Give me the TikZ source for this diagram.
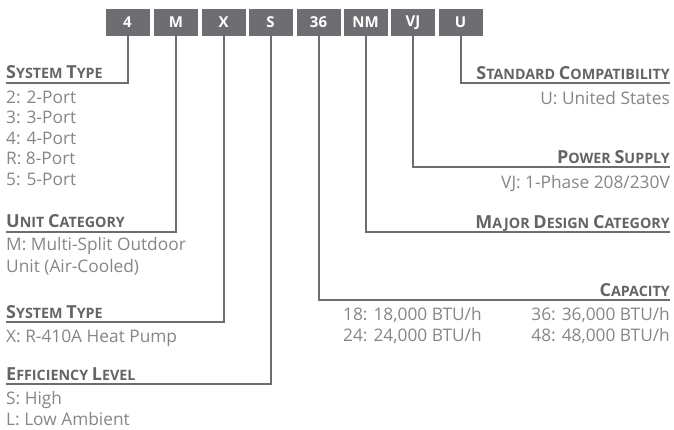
\documentclass[tikz,border=0pt]{standalone}
\usepackage{fontspec}
\setmainfont{Open Sans}
\definecolor{boxgray}{HTML}{6D6E71}
\definecolor{headgray}{HTML}{636466}
\definecolor{bodygray}{HTML}{858689}
\newcommand\hbig[1]{{\fontsize{18}{21}\selectfont #1}}
\begin{document}
\begin{tikzpicture}[x=1pt,y=-1pt,
  codebox/.style={fill=boxgray,text=white,minimum width=44pt,minimum height=27pt,inner sep=0pt,font=\fontsize{15}{18}\selectfont\bfseries},
  leader/.style={draw=boxgray,line width=2pt},
  heading/.style={inner sep=0pt,text=headgray,font=\fontsize{14.3}{17}\selectfont\bfseries},
  body/.style={inner sep=0pt,text=bodygray,font=\fontsize{17.3}{20.6}\selectfont},
  lw/.style={body,anchor=base west},
  le/.style={body,anchor=base east},
]
\useasboundingbox (0,0) rectangle (674,430);
% code boxes
\node[codebox] (b1) at (127.5,22.5) {4};
\node[codebox] (b2) at (176,22.5) {M};
\node[codebox] (b3) at (223.5,22.5) {X};
\node[codebox] (b4) at (270.5,22.5) {S};
\node[codebox] (b5) at (318.5,22.5) {36};
\node[codebox] (b6) at (365.5,22.5) {NM};
\node[codebox] (b7) at (413,22.5) {VJ};
\node[codebox] (b8) at (460.5,22.5) {U};
% leader ends
\coordinate (e1) at (6,83);
\coordinate (e2) at (6,232);
\coordinate (e3) at (6,322);
\coordinate (e4) at (6,384);
\coordinate (e5) at (670,300);
\coordinate (e6) at (670,232);
\coordinate (e7) at (670,167);
\coordinate (e8) at (670,83);
\foreach \i in {1,...,8}{\draw[leader] (b\i.south) |- (e\i);}
% left side
\node[heading,anchor=base west] (h1) at (6,79) {\hbig{S}YSTEM \hbig{T}YPE};
\node[lw] (t1a) at (6,103.5) {2: 2-Port};
\node[lw] (t1b) at (6,124) {3: 3-Port};
\node[lw] (t1c) at (6,144.5) {4: 4-Port};
\node[lw] (t1d) at (6,165) {R: 8-Port};
\node[lw] (t1e) at (6,185.5) {5: 5-Port};
\node[heading,anchor=base west] (h2) at (6,228) {\hbig{U}NIT \hbig{C}ATEGORY};
\node[lw] (t2a) at (6,251) {M: Multi-Split Outdoor};
\node[lw] (t2b) at (6,272.5) {Unit (Air-Cooled)};
\node[heading,anchor=base west] (h3) at (6,318) {\hbig{S}YSTEM \hbig{T}YPE};
\node[lw] (t3a) at (6,342) {X: R-410A Heat Pump};
\node[heading,anchor=base west] (h4) at (6,380.5) {\hbig{E}FFICIENCY \hbig{L}EVEL};
\node[lw] (t4a) at (6,404) {S: High};
\node[lw] (t4b) at (6,425) {L: Low Ambient};
% right side
\node[heading,anchor=base east] (h8) at (670,79.5) {\hbig{S}TANDARD \hbig{C}OMPATIBILITY};
\node[le] (t8a) at (670,104.5) {U: United States};
\node[heading,anchor=base east] (h7) at (670,163.5) {\hbig{P}OWER \hbig{S}UPPLY};
\node[le] (t7a) at (670,188.5) {VJ: 1-Phase 208/230V};
\node[heading,anchor=base east] (h6) at (670,228.5) {\hbig{M}AJOR \hbig{D}ESIGN \hbig{C}ATEGORY};
\node[heading,anchor=base east] (h5) at (670,296) {\hbig{C}APACITY};
\node[lw] (t5a) at (343,320) {18: 18,000 BTU/h};
\node[lw] (t5b) at (343,341) {24: 24,000 BTU/h};
\node[le] (t5c) at (670,320) {36: 36,000 BTU/h};
\node[le] (t5d) at (670,341) {48: 48,000 BTU/h};
\end{tikzpicture}
\end{document}
